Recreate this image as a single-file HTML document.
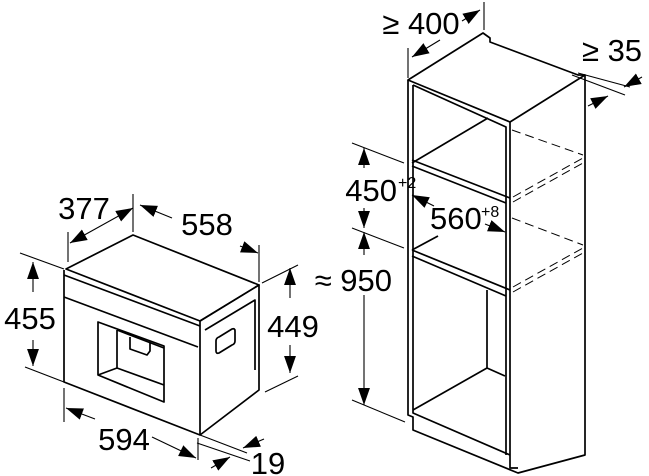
<!DOCTYPE html>
<html><head><style>
html,body{margin:0;padding:0;background:#fff;}
svg{display:block;}
text{font-family:"Liberation Sans",Arial,sans-serif;fill:#000;}
</style></head><body>
<svg width="649" height="476" viewBox="0 0 649 476" xmlns="http://www.w3.org/2000/svg">
<defs>
<marker id="a" viewBox="0 0 10 10" refX="10" refY="5" markerWidth="17" markerHeight="17" markerUnits="userSpaceOnUse" orient="auto-start-reverse"><path d="M0,1.5 L10,5 L0,8.5 z" fill="#000"/></marker>
</defs>
<g fill="none" stroke="#000" stroke-width="1.7" stroke-linejoin="round">
<!-- left appliance -->
<path d="M66,269 L133,235 L259,285 L200,321 Z" fill="#fff"/>
<path d="M64,270 L64,382 L200,435 L200,321"/>
<path d="M64,275 L200,326"/>
<path d="M64,297 L198,347"/>
<path d="M200,321 L259,285 L259,390 L200,435"/>
<path d="M205,330 L255,300 L255,370"/>
<path d="M98,322 L98,375 L164,402 L164,346 Z"/>
<path d="M117,330 L117,368 L164,385"/>
<path d="M98,375 L117,368"/>
<path d="M117,330 L164,348"/>
<path d="M130,337 L130,349 L147,355 L150,351 L150,343"/>
<path d="M219,337 L232,329 Q235,328 235,331 L235,341 Q235,344 232,345 L219,353 Q216,354 216,351 L216,341 Q216,338 219,337 Z"/>
<!-- left dims -->
<g stroke-width="1.1">
<path d="M68,232 L68,262 M133,194 L133,232 M259,245 L259,282 M20,253 L64,269 M25,367 L64,382 M262,283 L298,265 M265,392 L298,376 M64,388 L64,422 M198,438 L198,460 M200,435 L247,453 M197,443 L250,461"/>
<path d="M70,243 L133,208" marker-start="url(#a)" marker-end="url(#a)"/>
<path d="M172,218 L140,205" marker-end="url(#a)"/>
<path d="M240,246 L258,253" marker-end="url(#a)"/>
<path d="M33,292 L33,262" marker-end="url(#a)"/>
<path d="M33,340 L33,366" marker-end="url(#a)"/>
<path d="M290,298 L290,268" marker-end="url(#a)"/>
<path d="M290,345 L290,373" marker-end="url(#a)"/>
<path d="M95,419 L66,408" marker-end="url(#a)"/>
<path d="M152,437 L196,458" marker-end="url(#a)"/>
<path d="M211,468 L230,457" marker-end="url(#a)"/>
<path d="M264,439 L243,448" marker-end="url(#a)"/>
</g>
<!-- right cabinet -->
<path d="M408,80 L483,33 L490,38 L490,42 L578,75 L585,75 L510,122 Z" fill="#fff"/>
<path d="M408,80 L408,415 L413,417 L413,430 L518,473 L585,455 L585,75"/>
<path d="M510,122 L510,468 L518,468"/>
<path d="M413,85 L413,413 L510,455"/>
<path d="M413,85 L506,127 L506,455"/>
<path d="M412,160 L510,198 M412,166 L506,203"/>
<path d="M412,250 L510,290 M412,256 L506,296"/>
<path d="M412,163 L488,118"/>
<path d="M412,250 L438,236"/>
<path d="M413,410 L487,368 L505,376 M487,290 L487,368"/>
<g stroke-width="1" stroke-dasharray="9,5">
<path d="M512,130 L583,155 M513,197 L583,158 M513,202 L583,163"/>
<path d="M512,218 L583,245 M513,287 L583,248 M513,292 L583,253"/>
</g>
<!-- right dims -->
<g stroke-width="1.1">
<path d="M408,48 L408,78 M484,2 L484,30 M572,75 L625,95 M578,73 L630,87 M352,143 L404,163 M352,228 L404,248 M352,400 L405,422"/>
<path d="M440,40 L412,57" marker-end="url(#a)"/>
<path d="M462,21 L480,10" marker-end="url(#a)"/>
<path d="M642,77 L624,87" marker-end="url(#a)"/>
<path d="M588,106 L608,96" marker-end="url(#a)"/>
<path d="M364,168 L364,148" marker-end="url(#a)"/>
<path d="M364,208 L364,228" marker-end="url(#a)"/>
<path d="M364,255 L364,232" marker-end="url(#a)"/>
<path d="M364,295 L364,405" marker-end="url(#a)"/>
<path d="M434,206 L412,195" marker-end="url(#a)"/>
<path d="M485,224 L505,232" marker-end="url(#a)"/>
</g>
</g>
<g font-size="31">
<text x="84" y="219" text-anchor="middle">377</text>
<text x="207" y="235" text-anchor="middle">558</text>
<text x="30" y="329" text-anchor="middle">455</text>
<text x="293" y="337" text-anchor="middle">449</text>
<text x="124" y="450" text-anchor="middle">594</text>
<text x="268" y="474" text-anchor="middle">19</text>
<text x="421" y="34" text-anchor="middle">≥ 400</text>
<text x="612" y="61" text-anchor="middle">≥ 35</text>
<text x="397" y="201" text-anchor="end">450</text>
<text x="430" y="229">560</text>
<text x="392" y="291" text-anchor="end">≈ 950</text>
</g>
<g font-size="16">
<text x="398" y="188">+2</text>
<text x="481" y="217">+8</text>
</g>
</svg>
</body></html>
